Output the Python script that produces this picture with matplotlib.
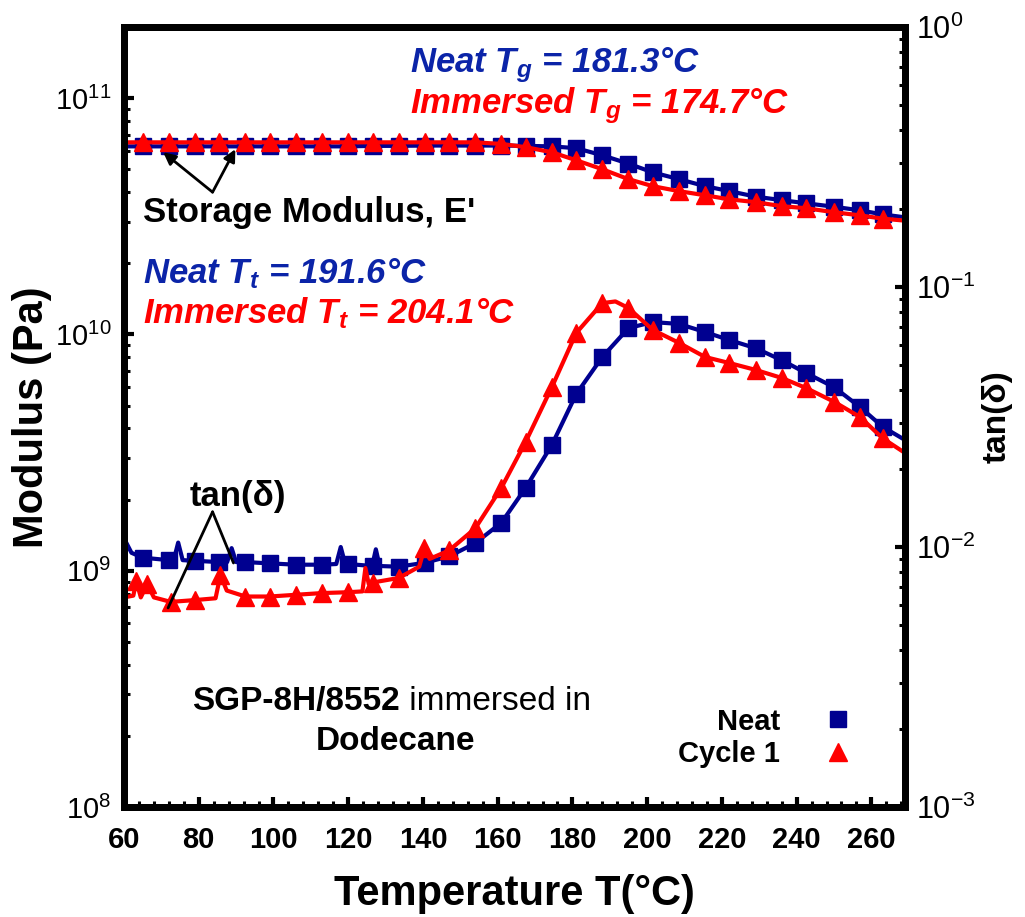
import matplotlib
matplotlib.use("Agg")
import matplotlib.pyplot as plt
from matplotlib.lines import Line2D
from matplotlib.ticker import MultipleLocator, LogLocator, NullFormatter

plt.rcParams["font.family"] = ["Liberation Sans", "DejaVu Sans"]
plt.rcParams["axes.unicode_minus"] = False

# ---- data ----
# storage modulus E' (Pa), left axis
T_E = [60, 65, 72, 79, 85.5, 92.5, 99, 106, 113, 120, 126.5, 133.5, 140.5, 147, 154,
       161, 167.5, 174.5, 181, 188, 195, 201.5, 208.5, 215.5, 222, 229, 236, 242.5,
       250, 257, 263, 269]
E_neat = [6.25e10, 6.25e10, 6.25e10, 6.25e10, 6.25e10, 6.25e10, 6.25e10, 6.25e10,
          6.25e10, 6.25e10, 6.28e10, 6.28e10, 6.3e10, 6.3e10, 6.3e10, 6.3e10, 6.28e10,
          6.25e10, 6.14e10, 5.73e10, 5.28e10, 4.85e10, 4.54e10, 4.24e10, 4.04e10,
          3.83e10, 3.70e10, 3.59e10, 3.47e10, 3.35e10, 3.22e10, 3.13e10]
E_cyc1 = [6.5e10, 6.5e10, 6.5e10, 6.5e10, 6.5e10, 6.5e10, 6.5e10, 6.5e10, 6.5e10,
          6.5e10, 6.5e10, 6.5e10, 6.5e10, 6.5e10, 6.5e10, 6.4e10, 6.2e10, 5.9e10,
          5.46e10, 5.0e10, 4.54e10, 4.24e10, 4.04e10, 3.88e10, 3.73e10, 3.63e10,
          3.49e10, 3.42e10, 3.29e10, 3.19e10, 3.09e10, 3.03e10]
E_marks = T_E[1:-1]

# tan(delta), right axis
T_tan_neat = [60, 62, 65, 72, 73.3, 74.5, 75.7, 79, 85.5, 87.6, 88.8, 90, 92.5, 99,
              106, 113, 116.8, 118, 119.2, 120, 126.5, 126.4, 127.4, 128.4, 133.5, 140.5,
              147, 154, 161, 167.5, 174.5, 181, 188, 195, 201.5, 208.5, 215.5, 222,
              229, 236, 242.5, 250, 257, 263, 269]
tan_neat = [1.08e-2, 9.5e-3, 9.1e-3, 8.9e-3, 8.9e-3, 1.04e-2, 8.9e-3, 8.85e-3, 8.75e-3,
            8.75e-3, 9.9e-3, 8.75e-3, 8.75e-3, 8.65e-3, 8.55e-3, 8.55e-3, 8.6e-3,
            1.0e-2, 8.6e-3, 8.6e-3, 8.45e-3, 8.45e-3, 9.8e-3, 8.45e-3, 8.4e-3, 8.7e-3,
            9.2e-3, 1.035e-2, 1.24e-2, 1.69e-2, 2.47e-2, 3.87e-2, 5.38e-2, 6.95e-2,
            7.33e-2, 7.21e-2, 6.71e-2, 6.25e-2, 5.82e-2, 5.23e-2, 4.67e-2, 4.12e-2,
            3.45e-2, 2.90e-2, 2.58e-2]
tan_neat_marks = [65, 72, 79, 85.5, 92.5, 99, 106, 113, 120, 126.5, 133.5, 140.5, 147,
                  154, 161, 167.5, 174.5, 181, 188, 195, 201.5, 208.5, 215.5, 222, 229,
                  236, 242.5, 250, 257, 263]

T_tan_cyc1 = [60, 62.5, 63.3, 64.5, 66.2, 68, 72.5, 79, 84.5, 85.8, 87.5, 92.5, 99, 106,
              113, 120, 123.8, 124.6, 125.5, 126.5, 133.5, 139, 140.4, 141.8, 147, 154,
              161, 167.5, 174.5, 181, 188, 191.5, 195, 201.5, 208.5, 215.5, 222, 229,
              236, 242.5, 250, 257, 263, 269]
tan_cyc1 = [6.4e-3, 6.5e-3, 7.4e-3, 6.4e-3, 7.2e-3, 6.4e-3, 6.15e-3, 6.25e-3, 6.35e-3,
            7.8e-3, 6.8e-3, 6.45e-3, 6.45e-3, 6.55e-3, 6.65e-3, 6.7e-3, 6.75e-3, 8.3e-3,
            7.2e-3, 7.3e-3, 7.6e-3, 8.4e-3, 9.9e-3, 9.0e-3, 9.7e-3, 1.18e-2, 1.69e-2,
            2.54e-2, 4.12e-2, 6.65e-2, 8.67e-2, 8.8e-2, 8.3e-2, 6.84e-2, 6.1e-2,
            5.38e-2, 5.1e-2, 4.8e-2, 4.47e-2, 4.09e-2, 3.62e-2, 3.16e-2, 2.62e-2, 2.30e-2]
tan_cyc1_marks = [63.3, 66.2, 72.5, 79, 85.8, 92.5, 99, 106, 113, 120, 126.5, 133.5,
                  140.4, 147, 154, 161, 167.5, 174.5, 181, 188, 195, 201.5, 208.5, 215.5,
                  222, 229, 236, 242.5, 250, 257, 263]

navy = "#000090"
red = "#ff0000"
blue_txt = "#0b24a8"

W, H = 1025, 917


def fx(x):
    return x / W


def fy(y):
    return 1 - y / H


def marks(T, keep):
    return [i for i, t in enumerate(T) if t in keep]


fig = plt.figure(figsize=(W / 100, H / 100), dpi=100)
ax = fig.add_axes([fx(124), fy(807), (905 - 124) / W, (807 - 27) / H])
ax2 = ax.twinx()

ax.plot(T_E, E_neat, color=navy, lw=3, marker="s", ms=12, mec=navy,
        markevery=marks(T_E, E_marks), clip_on=False)
ax.plot(T_E, E_cyc1, color=red, lw=3, marker="^", ms=13, mec=red,
        markevery=marks(T_E, E_marks), clip_on=False)

ax2.plot(T_tan_neat, tan_neat, color=navy, lw=3, marker="s", ms=12, mec=navy,
         markevery=marks(T_tan_neat, tan_neat_marks))
ax2.plot(T_tan_cyc1, tan_cyc1, color=red, lw=3, marker="^", ms=13, mec=red,
         markevery=marks(T_tan_cyc1, tan_cyc1_marks))

ax.set_xlim(60, 269)
ax.set_yscale("log")
ax.set_ylim(1e8, 2e11)
ax2.set_yscale("log")
ax2.set_ylim(1e-3, 1)

ax.xaxis.set_major_locator(MultipleLocator(20))
ax.xaxis.set_minor_locator(MultipleLocator(4))
for a in (ax, ax2):
    a.yaxis.set_major_locator(LogLocator(base=10, numticks=10))
    a.yaxis.set_minor_locator(LogLocator(base=10, subs=range(2, 10), numticks=20))
    a.yaxis.set_minor_formatter(NullFormatter())
    for s in a.spines.values():
        s.set_linewidth(5)

ax.tick_params(which="major", direction="in", length=7.5, width=3, top=False, right=False)
ax.tick_params(which="minor", direction="in", length=4.5, width=2.2, top=False, right=False)
ax.tick_params(axis="x", which="major", pad=14, labelsize=21)
ax.tick_params(axis="y", which="major", pad=9, labelsize=21)
for lab in ax.get_xticklabels():
    lab.set_fontweight("bold")
ax2.tick_params(which="major", direction="in", length=7.5, width=3, pad=8, labelsize=22)
ax2.tick_params(which="minor", direction="in", length=4.5, width=2.2)

ax.set_xlabel("Temperature T(°C)", fontsize=30, fontweight="bold", labelpad=14)
ax.set_ylabel("Modulus (Pa)", fontsize=30, fontweight="bold", labelpad=2)
ax2.set_ylabel("tan(δ)", fontsize=24, fontweight="bold", labelpad=4)

# annotations
txt = dict(fontsize=25, fontweight="bold", style="italic", va="baseline")
fig.text(fx(410), fy(72), r"Neat $\mathdefault{T_g}$ = 181.3°C", color=blue_txt, **txt)
fig.text(fx(410), fy(113), r"Immersed $\mathdefault{T_g}$ = 174.7°C", color=red, **txt)
fig.text(fx(143), fy(283), r"Neat $\mathdefault{T_t}$ = 191.6°C", color=blue_txt, **txt)
fig.text(fx(143), fy(323), r"Immersed $\mathdefault{T_t}$ = 204.1°C", color=red, **txt)

fig.text(fx(143), fy(222), "Storage Modulus, E'", fontsize=25, fontweight="bold",
         va="baseline")
for tip in [(70.5, 5.9e10), (89.8, 6.08e10)]:
    ax.annotate("", xy=tip, xytext=(83.7, 4.0e10),
                arrowprops=dict(arrowstyle="-|>", lw=2, color="black",
                                mutation_scale=18, shrinkA=0, shrinkB=0))

fig.text(fx(190), fy(506), "tan(δ)", fontsize=25, fontweight="bold", va="baseline")
for end in [(71.8, 5.83e-3), (89.3, 8.68e-3)]:
    ax2.annotate("", xy=end, xytext=(83.7, 1.365e-2),
                 arrowprops=dict(arrowstyle="-", lw=2, color="black",
                                 shrinkA=0, shrinkB=0))

fig.text(fx(400), fy(710), "SGP-8H/8552", fontsize=24, fontweight="bold",
         ha="right", va="baseline")
fig.text(fx(400), fy(710), " immersed in", fontsize=24, ha="left", va="baseline")
fig.text(fx(395), fy(750), "Dodecane", fontsize=24, fontweight="bold",
         ha="center", va="baseline")

handles = [Line2D([], [], ls="none", marker="s", ms=12, color=navy),
           Line2D([], [], ls="none", marker="^", ms=13, color=red)]
ax2.legend(handles, ["Neat", "Cycle 1"], loc="lower right", bbox_to_anchor=(0.933, 0.05),
           frameon=False, markerfirst=False, handlelength=1, handletextpad=1.5,
           labelspacing=0.15, borderpad=0, borderaxespad=0,
           prop={"weight": "bold", "size": 21})

plt.savefig("out.png", dpi=100)
